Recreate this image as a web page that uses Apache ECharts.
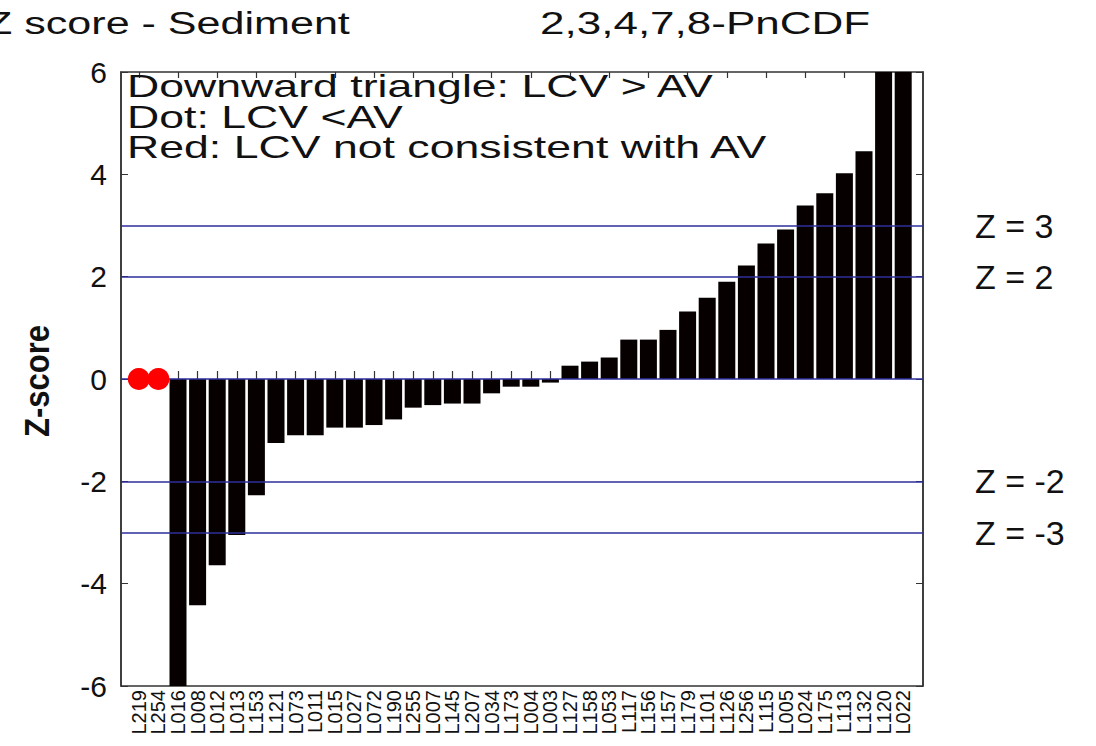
<!DOCTYPE html>
<html>
<head>
<meta charset="utf-8">
<script src="https://cdn.jsdelivr.net/npm/echarts@6/dist/echarts.min.js"></script>
<style>
  html, body { margin: 0; background: #fff; }
  #chart { width: 1096px; height: 746px; }
</style>
</head>
<body>
<div id="chart"></div>
<script>
// Laboratorios ordenados por Z-score
var labs = ['L219', 'L254', 'L016', 'L008', 'L012', 'L013', 'L153', 'L121', 'L073', 'L011',
  'L015', 'L027', 'L072', 'L190', 'L255', 'L007', 'L145', 'L207', 'L034', 'L173',
  'L004', 'L003', 'L127', 'L158', 'L053', 'L117', 'L156', 'L157', 'L179', 'L101',
  'L126', 'L256', 'L115', 'L005', 'L024', 'L175', 'L113', 'L132', 'L120', 'L022'];
var zValues = [null, null, -7.0, -4.42, -3.64, -3.05, -2.27, -1.25, -1.10, -1.10,
  -0.95, -0.95, -0.90, -0.79, -0.56, -0.51, -0.48, -0.48, -0.28, -0.15,
  -0.15, -0.07, 0.26, 0.34, 0.42, 0.77, 0.77, 0.96, 1.32, 1.59,
  1.90, 2.22, 2.65, 2.92, 3.39, 3.63, 4.02, 4.45, 6.9, 8.4];
// puntos rojos (LCV < AV, no consistente)
var dotLabs = ['L219', 'L254'];
var dotZ = [0, 0];
// lineas de referencia
var refLines = [3, 2, 0, -2, -3];
var refLabels = ['Z = 3', 'Z = 2', '', 'Z = -2', 'Z = -3'];
var notes = ['Downward triangle: LCV > AV', 'Dot: LCV <AV', 'Red: LCV not consistent with AV'];

var font = 'Liberation Sans, Arial, sans-serif';
var myChart = echarts.init(document.getElementById('chart'), null, { renderer: 'svg' });

var option = {
  animation: false,
  backgroundColor: '#fff',
  textStyle: { fontFamily: font },
  grid: [
    { left: 121, right: 173, top: 72, bottom: 60, show: true, borderColor: '#333', borderWidth: 1.5, backgroundColor: '#fff' },
    { left: 129, right: 183, top: 72, bottom: 60 }
  ],
  xAxis: [
    { gridIndex: 0, type: 'value', min: 0, max: 1, show: false },
    {
      gridIndex: 1, type: 'category', data: labs, position: 'bottom',
      axisLine: { show: false },
      axisTick: { show: true, inside: true, alignWithLabel: true, length: 8, lineStyle: { color: '#333', width: 1.2 } },
      axisLabel: { interval: 0, rotate: 90, fontSize: 20, color: '#111', margin: 4, fontFamily: font }
    },
    {
      gridIndex: 1, type: 'category', data: labs, position: 'top',
      axisLine: { show: false },
      axisTick: { show: true, inside: true, alignWithLabel: true, length: 6, lineStyle: { color: '#333', width: 1.2 } },
      axisLabel: { show: false }
    }
  ],
  yAxis: [
    {
      gridIndex: 0, type: 'value', min: -6, max: 6, interval: 2, position: 'left',
      axisLine: { show: true, lineStyle: { color: '#333', width: 1.5 } },
      axisTick: { show: true, inside: true, length: 7, lineStyle: { color: '#333' } },
      axisLabel: { fontSize: 30, color: '#111', margin: 14, fontFamily: font },
      splitLine: { show: false }
    },
    {
      gridIndex: 0, type: 'value', min: -6, max: 6, interval: 2, position: 'right',
      axisLine: { show: true, lineStyle: { color: '#333', width: 1.5 } },
      axisTick: { show: true, inside: true, length: 7, lineStyle: { color: '#333' } },
      axisLabel: { show: false },
      splitLine: { show: false }
    },
    { gridIndex: 1, type: 'value', min: -6, max: 6, show: false, splitLine: { show: false } }
  ],
  series: [
    {
      type: 'bar',
      xAxisIndex: 1,
      yAxisIndex: 2,
      data: zValues,
      barWidth: 17,
      itemStyle: { color: '#070000' },
      z: 2
    },
    {
      type: 'line',
      xAxisIndex: 0,
      yAxisIndex: 0,
      data: [],
      z: 3,
      markLine: {
        silent: true,
        symbol: 'none',
        lineStyle: { color: '#2e2e9c', width: 1.5, type: 'solid' },
        label: {
          position: 'end',
          distance: 52,
          fontSize: 34,
          color: '#111',
          fontFamily: font,
          formatter: function (p) { return p.name; }
        },
        data: refLines.map(function (v, i) { return { yAxis: v, name: refLabels[i] }; })
      }
    },
    {
      type: 'scatter',
      xAxisIndex: 1,
      yAxisIndex: 2,
      data: dotLabs.map(function (l, i) { return [l, dotZ[i]]; }),
      symbol: 'circle',
      symbolSize: 22,
      itemStyle: { color: '#ff0000', opacity: 1 },
      z: 5
    }
  ],
  graphic: [
    { type: 'text', x: -14, y: 23, scaleX: 1.39, style: { text: 'Z score - Sediment', font: '31px ' + font, fill: '#111', verticalAlign: 'middle' } },
    { type: 'text', x: 540, y: 23, scaleX: 1.42, style: { text: '2,3,4,7,8-PnCDF', font: '31px ' + font, fill: '#111', verticalAlign: 'middle' } },
    { type: 'text', x: 37, y: 381, rotation: Math.PI / 2, scaleY: 1.15, style: { text: 'Z-score', font: 'bold 31px ' + font, fill: '#111', align: 'center', verticalAlign: 'middle' } }
  ].concat(notes.map(function (t, i) {
    return { type: 'text', x: 127, y: 86 + i * 30.7, scaleX: 1.44, z: 10, style: { text: t, font: '31px ' + font, fill: '#111', verticalAlign: 'middle' } };
  }))
};

myChart.setOption(option);
</script>
</body>
</html>
